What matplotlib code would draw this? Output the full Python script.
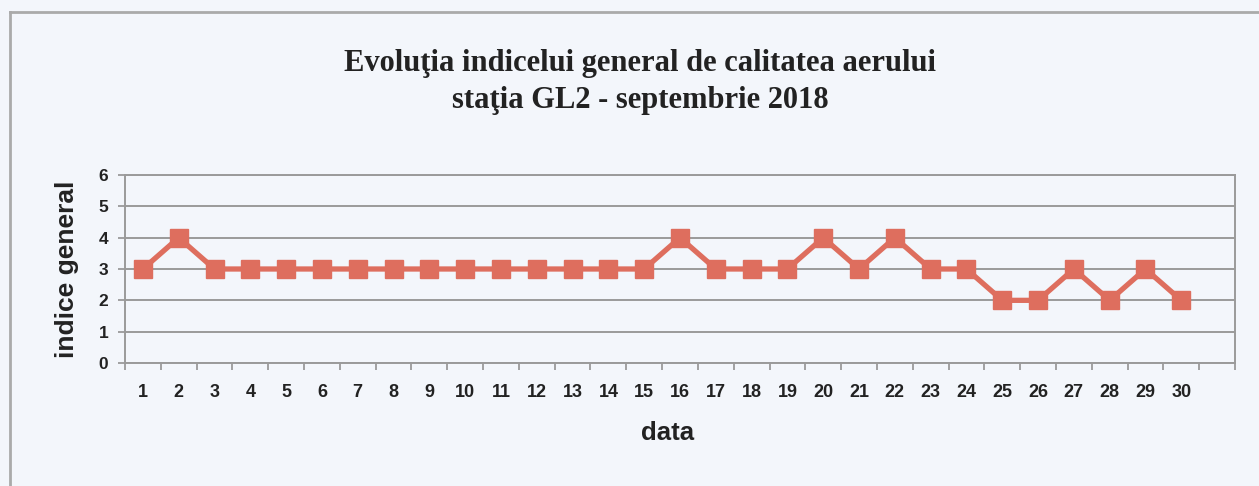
import matplotlib
matplotlib.use("Agg")
import matplotlib.pyplot as plt
from matplotlib.lines import Line2D
from matplotlib.ticker import FixedLocator, NullFormatter

days = list(range(1, 31))
values = [3, 4, 3, 3, 3, 3, 3, 3, 3, 3, 3, 3, 3, 3, 3,
          4, 3, 3, 3, 4, 3, 4, 3, 3, 2, 2, 3, 2, 3, 2]
day_labels = [str(d) for d in days]
y_ticks = [0, 1, 2, 3, 4, 5, 6]
n_slots = 31

title = "Evoluţia indicelui general de calitatea aerului\nstaţia GL2 - septembrie 2018"

bg = "#f3f6fb"
line_col = "#de6e5e"
grid_col = "#9a9a9a"
txt_col = "#222222"
sans = ["Liberation Sans", "DejaVu Sans"]

fig = plt.figure(figsize=(12.59, 4.86), dpi=100, facecolor=bg)
ax = fig.add_axes([125/1259, 1-363/486, (1235-125)/1259, (363-175)/486])
ax.set_facecolor(bg)

ax.plot(days, values, color=line_col, lw=3.8, marker="s", ms=13,
        mfc=line_col, mec=line_col, zorder=3, clip_on=False)

ax.set_xlim(0.5, n_slots + 0.5)
ax.set_ylim(0, 6)

ax.xaxis.set_major_locator(FixedLocator([i + 0.5 for i in range(0, n_slots + 1)]))
ax.xaxis.set_major_formatter(NullFormatter())
ax.xaxis.set_minor_locator(FixedLocator(days))
ax.set_xticklabels(day_labels, minor=True)
ax.tick_params(axis="x", which="major", length=5, width=1.3, color=grid_col, direction="out")
ax.tick_params(axis="x", which="minor", length=0, pad=15, labelsize=13, labelcolor=txt_col)
for lab in ax.get_xticklabels(minor=True):
    lab.set_fontweight("bold")
    lab.set_family(sans)

ax.set_yticks(y_ticks)
ax.tick_params(axis="y", which="major", length=5, width=1.3, color=grid_col, direction="out",
               pad=7, labelsize=12.5, labelcolor=txt_col)
for lab in ax.get_yticklabels():
    lab.set_fontweight("bold")
    lab.set_family(sans)

ax.yaxis.grid(True, color=grid_col, lw=1.4)
ax.set_axisbelow(True)
for side in ["left", "bottom", "right", "top"]:
    ax.spines[side].set_color(grid_col)
    ax.spines[side].set_linewidth(1.4)

ax.set_ylabel("indice general", fontsize=19, fontweight="bold", color=txt_col, family=sans,
              va="center")
ax.yaxis.set_label_coords((67-125)/1110, 0.5)
ax.set_xlabel("data", fontsize=18.5, fontweight="bold", color=txt_col, family=sans,
              va="center")
ax.xaxis.set_label_coords((668-125)/1110, -(433-363)/188)

fig.text(640/1259, 1-82/486, title, ha="center", va="center", fontsize=22,
         fontweight="bold", color=txt_col, family=["Liberation Serif", "DejaVu Serif"],
         linespacing=1.38)

# figure border (top and left visible)
fig.add_artist(Line2D([10/1259, 10/1259], [0, 1-12/486], transform=fig.transFigure,
                      color="#aaaaaa", lw=2))
fig.add_artist(Line2D([10/1259, 1], [1-12/486, 1-12/486], transform=fig.transFigure,
                      color="#aaaaaa", lw=2))

fig.savefig("out.png", dpi=100, facecolor=bg)
